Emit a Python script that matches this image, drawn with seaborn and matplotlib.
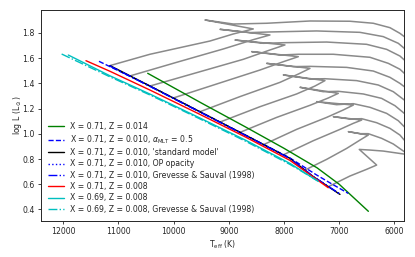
import numpy as np
import pandas as pd
import matplotlib
matplotlib.use("Agg")
import matplotlib.pyplot as plt
import seaborn as sns

sns.set_style("ticks")
plt.rcParams['font.family'] = ['DejaVu Sans']

# ZAMS-type lines (Teff [K], log L)
green_T = [10470, 9500, 8700, 8000, 7400, 7000, 6470]
green_L = [1.48, 1.245, 1.055, 0.885, 0.73, 0.60, 0.385]

black_T = [11154, 10429, 9523, 8700, 7891, 7468, 6985]
black_L = [1.541, 1.379, 1.175, 0.990, 0.805, 0.660, 0.519]

bdash_T = [11353, 10429, 9523, 8700, 7891, 7408, 7148, 6834]
bdash_L = [1.575, 1.379, 1.175, 0.990, 0.808, 0.673, 0.606, 0.527]

bdot_T = [11154, 10429, 9523, 8700, 7891, 7468, 6990]
bdot_L = [1.539, 1.377, 1.173, 0.988, 0.804, 0.660, 0.523]

bdd_T = [11160, 10429, 9523, 8700, 7891, 7468, 7000]
bdd_L = [1.538, 1.376, 1.172, 0.987, 0.803, 0.661, 0.527]

red_T = [11589, 11154, 10429, 9523, 8700, 7891, 7197]
red_L = [1.580, 1.496, 1.347, 1.154, 0.975, 0.789, 0.572]

cyan_T = [11909, 11154, 10429, 9523, 8700, 7891, 7378]
cyan_L = [1.625, 1.460, 1.315, 1.125, 0.950, 0.765, 0.622]

cdd_T = [12030, 11154, 10429, 9523, 8700, 7891, 7400]
cdd_L = [1.633, 1.452, 1.308, 1.118, 0.942, 0.757, 0.630]

# evolutionary tracks (gray): ZAMS -> end of MS -> hook -> crossing to the right
tracks_T = [
    [11154, 10429, 9342, 8919, 8556, 9432, 8919, 8314, 7529, 6804, 6381, 6079, 5898, 5819],
    [10792, 9946, 9100, 8556, 8254, 9160, 8617, 8254, 7408, 6623, 6200, 5928, 5819],
    [10429, 9583, 8737, 8254, 7982, 8888, 8375, 7982, 7227, 6502, 6139, 5898, 5819],
    [10006, 9221, 8435, 8012, 7740, 8586, 8073, 7740, 7106, 6441, 6109, 5898, 5819],
    [9523, 8798, 8073, 7740, 7529, 8314, 7831, 7529, 6864, 6381, 6079, 5898, 5819],
    [9160, 8435, 7771, 7438, 7257, 8012, 7529, 7257, 6683, 6290, 6018, 5819],
    [8798, 8133, 7529, 7197, 7015, 7710, 7287, 7015, 6562, 6230, 5988, 5819],
    [8375, 7771, 7227, 6925, 6743, 7408, 7046, 6743, 6441, 6139, 5928, 5819],
    [8012, 7469, 6985, 6743, 6592, 7106, 6804, 6592, 6320, 6079, 5898, 5819],
    [7620, 7227, 6864, 6623, 6472, 6834, 6623, 6472, 6230, 6018, 5819],
    [7197, 6804, 6502, 6320, 6635, 6441, 6200, 5819],
]
tracks_L = [
    [1.541, 1.631, 1.736, 1.792, 1.832, 1.903, 1.871, 1.877, 1.895, 1.893, 1.877, 1.842, 1.797, 1.771],
    [1.459, 1.567, 1.673, 1.747, 1.784, 1.829, 1.803, 1.808, 1.816, 1.805, 1.771, 1.718, 1.678],
    [1.379, 1.485, 1.591, 1.665, 1.705, 1.744, 1.718, 1.723, 1.728, 1.710, 1.670, 1.617, 1.586],
    [1.284, 1.395, 1.506, 1.572, 1.612, 1.652, 1.625, 1.631, 1.631, 1.607, 1.559, 1.512, 1.480],
    [1.175, 1.295, 1.408, 1.474, 1.519, 1.559, 1.533, 1.535, 1.527, 1.498, 1.448, 1.400, 1.374],
    [1.093, 1.215, 1.316, 1.379, 1.422, 1.467, 1.435, 1.437, 1.422, 1.387, 1.334, 1.268],
    [1.011, 1.130, 1.226, 1.284, 1.321, 1.369, 1.334, 1.337, 1.316, 1.281, 1.223, 1.162],
    [0.913, 1.035, 1.130, 1.189, 1.228, 1.255, 1.231, 1.239, 1.210, 1.162, 1.104, 1.056],
    [0.833, 0.945, 1.035, 1.083, 1.109, 1.136, 1.117, 1.120, 1.088, 1.043, 0.990, 0.950],
    [0.712, 0.797, 0.884, 0.950, 0.990, 1.017, 1.001, 1.001, 0.964, 0.919, 0.858],
    [0.580, 0.665, 0.718, 0.752, 0.876, 0.871, 0.863, 0.839],
]

labels = [
    "X = 0.71, Z = 0.014",
    r"X = 0.71, Z = 0.010, $\alpha_{\rm MLT}$ = 0.5",
    "X = 0.71, Z = 0.010, 'standard model'",
    "X = 0.71, Z = 0.010, OP opacity",
    "X = 0.71, Z = 0.010, Grevesse & Sauval (1998)",
    "X = 0.71, Z = 0.008",
    "X = 0.69, Z = 0.008",
    "X = 0.69, Z = 0.008, Grevesse & Sauval (1998)",
]

fig = plt.figure(figsize=(4.15, 2.57), dpi=100)
ax = fig.add_axes([0.0988, 0.141, 0.8754, 0.819])

for tT, tL in zip(tracks_T, tracks_L):
    df = pd.DataFrame({"T": tT, "L": tL})
    sns.lineplot(data=df, x="T", y="L", sort=False, estimator=None, ax=ax,
                 color="#8a8a8a", lw=1.1, zorder=1)

series = [
    (green_T, green_L, "g", "-", labels[0]),
    (bdash_T, bdash_L, "b", "--", labels[1]),
    (black_T, black_L, "k", "-", labels[2]),
    (bdot_T, bdot_L, "b", ":", labels[3]),
    (bdd_T, bdd_L, "b", "-.", labels[4]),
    (red_T, red_L, "r", "-", labels[5]),
    (cyan_T, cyan_L, "c", "-", labels[6]),
    (cdd_T, cdd_L, "c", "-.", labels[7]),
]
for T, L, c, ls, lab in series:
    df = pd.DataFrame({"T": T, "L": L})
    sns.lineplot(data=df, x="T", y="L", sort=False, estimator=None, ax=ax,
                 color=c, linestyle=ls, lw=1.0, label=lab, zorder=3)

ax.set_xlim(12404, 5819)
ax.set_ylim(0.31, 1.98)
ax.set_xticks([12000, 11000, 10000, 9000, 8000, 7000, 6000])
ax.set_yticks([0.4, 0.6, 0.8, 1.0, 1.2, 1.4, 1.6, 1.8])
ax.set_xlabel(r"T$_{\rm eff}$ (K)", fontsize=5.6, labelpad=2)
ax.set_ylabel(r"log L (L$_\odot$)", fontsize=5.6, labelpad=-1.0)
ax.tick_params(labelsize=5.6, length=2.5, width=0.6, pad=2)
for s in ax.spines.values():
    s.set_linewidth(0.7)
ax.legend(loc="lower left", frameon=False, fontsize=5.6, labelspacing=0.3,
          handlelength=2.1, handletextpad=0.7, borderaxespad=0.5)

fig.savefig("out.png", dpi=100)
